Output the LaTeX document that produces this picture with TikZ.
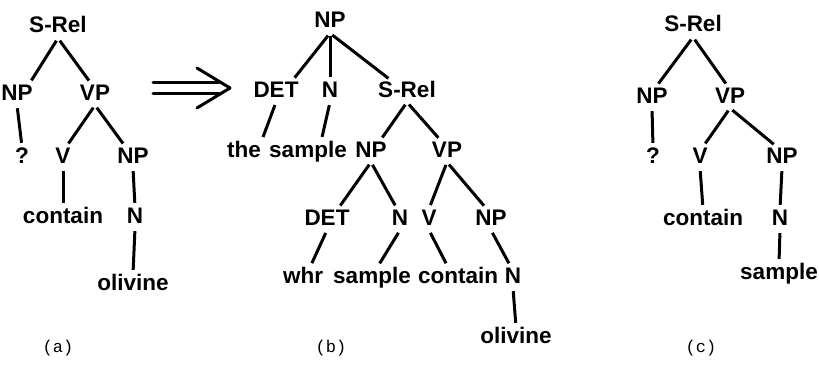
\documentclass[tikz,border=0pt]{standalone}
\usepackage{fontspec}
\setmainfont{Liberation Sans}
\newfontfamily\captionfont{Liberation Mono}
\usetikzlibrary{calc}

\tikzset{
	lbl/.style={font=\fontsize{22.5}{25}\selectfont\bfseries, inner sep=0pt, text height=16pt, text depth=5pt, anchor=base},
	caption/.style={font=\captionfont\fontsize{17}{19}\selectfont, inner sep=0pt, anchor=base},
	branch/.style={line width=3pt, shorten <=3pt, shorten >=4pt},
	arrowline/.style={line width=3pt, line cap=round}
}

\begin{document}
\begin{tikzpicture}[x=1pt, y=-1pt]
	\useasboundingbox (0,0) rectangle (819,369);
	% tree (a)
	\foreach \n/\x/\y/\t in {srelA/58/33/S-Rel, npA/17/100/NP, vpA/95/100/VP, qA/22/163/?, vA/63/163/V,
		npaA/133/163/NP, containA/63/223/contain, nA/135/223/N, olivineA/133/290/olivine} {
		\node [lbl] (\n) at (\x,\y) {\t};
	}
	% tree (b)
	\foreach \n/\x/\y/\t in {npB/330/28/NP, detB/276/97/DET, nB/330/97/N, srelB/407/97/S-Rel,
		theB/244/157/the, sampleB/308/157/sample, npbB/371/157/NP, vpB/447/157/VP,
		detbB/327/225/DET, nbB/400/225/N, vbB/429/225/V, npcB/491/225/NP,
		whrB/303/283/whr, samplebB/372/283/sample, containB/458/283/contain, ncB/513/283/N,
		olivineB/516/343/olivine} {
		\node [lbl] (\n) at (\x,\y) {\t};
	}
	% tree (c)
	\foreach \n/\x/\y/\t in {srelC/693/32/S-Rel, npC/652/103/NP, vpC/730/103/VP, qC/653/163/?, vC/700/163/V,
		npaC/782/163/NP, containC/703/225/contain, nC/780/225/N, sampleC/779/279/sample} {
		\node [lbl] (\n) at (\x,\y) {\t};
	}
	\foreach \p/\c/\f in {srelA/npA/.3, srelA/vpA/.1, npA/qA/0, vpA/vA/.1, vpA/npaA/.2, vA/containA/0,
		npaA/nA/0, nA/olivineA/0,
		npB/detB/.3, npB/nB/0, npB/srelB/.2, detB/theB/.55, nB/sampleB/.6, srelB/npbB/.25,
		srelB/vpB/.15, npbB/detbB/.25, npbB/nbB/.1, vpB/vbB/0, vpB/npcB/.1, detbB/whrB/.3,
		nbB/samplebB/.2, vbB/containB/.35, npcB/ncB/.1, ncB/olivineB/0,
		srelC/npC/.1, srelC/vpC/.05, npC/qC/0, vpC/vC/.1, vpC/npaC/.1, vC/containC/0,
		npaC/nC/0, nC/sampleC/0} {
		\draw [branch] (\p.south) -- ($(\c.north)!\f!(\p.south |- \c.north)$);
	}
	% transformation arrow
	\coordinate (arrowTail) at (153,88);
	\coordinate (arrowTip) at (230,88);
	\draw [arrowline] ([yshift=6pt]arrowTail) -- ([xshift=-11pt, yshift=6pt]arrowTip);
	\draw [arrowline] ([yshift=-5pt]arrowTail) -- ([xshift=-11pt, yshift=-5pt]arrowTip);
	\draw [arrowline, line join=round] ([shift={(-33pt,20pt)}]arrowTip) -- (arrowTip) -- ([shift={(-33pt,-20pt)}]arrowTip);
	% captions
	\node [caption] (capA) at (58,352) {(a)};
	\node [caption] (capB) at (331,352) {(b)};
	\node [caption] (capC) at (701,352) {(c)};
\end{tikzpicture}
\end{document}
